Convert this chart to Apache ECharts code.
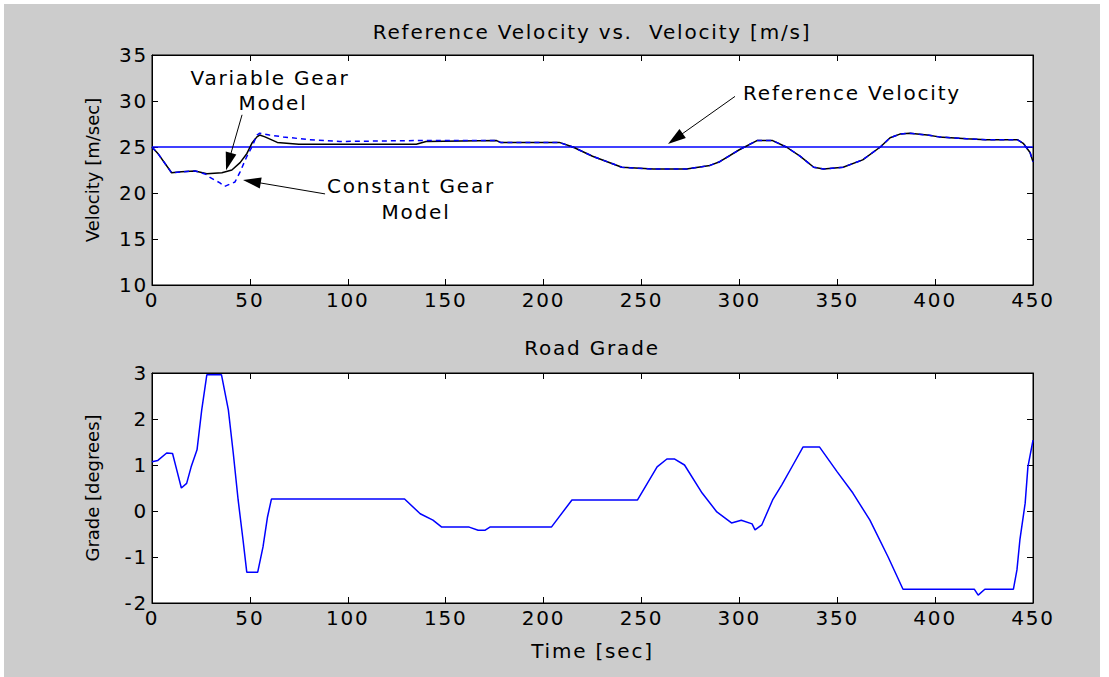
<!DOCTYPE html>
<html>
<head>
<meta charset="utf-8">
<script src="https://cdn.jsdelivr.net/npm/echarts@6/dist/echarts.min.js"></script>
<style>
html,body{margin:0;padding:0;background:#ffffff;width:1109px;height:677px;overflow:hidden;}
#c{position:absolute;left:4px;top:4px;width:1096px;height:673px;background:#cccccc;}
#c text{letter-spacing:1.8px;}
#c text[transform*=",-1,1,"]{letter-spacing:0px;}
</style>
</head>
<body>
<div id="c"></div>
<script>
// ---- data ----
const refTime = [0, 450];
const refVel = [25, 25];

const varTime = [0, 3, 10, 15, 22, 28, 35.7, 40.8, 45, 48.5, 51, 53.6, 55, 57.7, 64, 75, 100, 135, 140, 176, 178, 208, 215, 225, 240, 256, 273, 285, 290, 300, 309, 317, 324, 331, 338, 343, 353, 363, 372, 377, 382, 387, 396, 402, 416, 426, 442, 445, 448.5, 450];
const varVel = [25, 24.3, 22.2, 22.3, 22.4, 22.1, 22.2, 22.5, 23.3, 24.3, 25.4, 26.1, 26.3, 26.1, 25.5, 25.3, 25.3, 25.3, 25.6, 25.7, 25.5, 25.5, 25, 24, 22.8, 22.6, 22.6, 23.0, 23.4, 24.7, 25.7, 25.7, 25, 24, 22.8, 22.6, 22.8, 23.6, 25, 26, 26.4, 26.5, 26.3, 26.1, 25.9, 25.8, 25.8, 25.4, 24.4, 23.4];

const constTime = [0, 3, 10, 15, 22, 28, 29.6, 34.7, 37, 42.4, 45, 48.5, 51, 53.6, 55, 60, 67, 80, 96, 135, 140, 176, 178, 208, 215, 225, 240, 256, 273, 285, 290, 300, 309, 317, 324, 331, 338, 343, 353, 363, 372, 377, 382, 387, 396, 402, 416, 426, 442, 445, 448.5, 450];
const constVel = [25, 24.3, 22.2, 22.3, 22.4, 22.0, 21.7, 21.1, 20.7, 21.2, 22.3, 24, 25, 26.3, 26.5, 26.3, 26.1, 25.8, 25.6, 25.7, 25.7, 25.7, 25.5, 25.5, 25, 24, 22.8, 22.6, 22.6, 23.0, 23.4, 24.7, 25.7, 25.7, 25, 24, 22.8, 22.6, 22.8, 23.6, 25, 26, 26.4, 26.5, 26.3, 26.1, 25.9, 25.8, 25.8, 25.4, 24.4, 23.4];

const gradeTime = [0, 3, 7.5, 10.5, 12.6, 15, 17.7, 20, 23, 25.4, 28, 35.5, 39, 41.5, 44, 46.5, 48.4, 54, 56.7, 59, 61, 129, 137, 143.5, 148, 162, 166.6, 170, 172.6, 204, 214.5, 248, 258, 263, 267, 272, 281, 288.5, 296, 301, 306.5, 308, 311.5, 317, 321.7, 327.4, 332.5, 341, 350, 358, 366.7, 376, 383.6, 420, 422, 425.4, 440, 441.8, 443.3, 446, 447.4, 450];
const gradeVal = [1.07, 1.1, 1.26, 1.25, 0.9, 0.5, 0.6, 0.96, 1.33, 2.2, 2.96, 2.96, 2.2, 1.26, 0.24, -0.63, -1.33, -1.33, -0.78, -0.13, 0.26, 0.26, -0.06, -0.2, -0.35, -0.35, -0.42, -0.42, -0.35, -0.35, 0.24, 0.24, 0.96, 1.13, 1.13, 1.0, 0.39, -0.02, -0.26, -0.2, -0.28, -0.41, -0.3, 0.24, 0.57, 1.0, 1.39, 1.39, 0.85, 0.39, -0.2, -1.0, -1.7, -1.7, -1.83, -1.7, -1.7, -1.28, -0.63, 0.17, 0.96, 1.54];

const xTicks = [0, 50, 100, 150, 200, 250, 300, 350, 400, 450];
const velTicks = [10, 15, 20, 25, 30, 35];
const gradeTicks = [-2, -1, 0, 1, 2, 3];

const titles = ['Reference Velocity vs.  Velocity [m/s]', 'Road Grade'];
const axisNames = {x: 'Time [sec]', yTop: 'Velocity [m/sec]', yBottom: 'Grade [degrees]'};
const annotations = ['Variable Gear', 'Model', 'Constant Gear', 'Model', 'Reference Velocity'];

// ---- chart ----
const zip = (a, b) => a.map((t, i) => [t, b[i]]);
const FONT = 'DejaVu Sans';

function xAx(gridIndex, pos, labels, name) {
  return {
    type: 'value', gridIndex: gridIndex, position: pos,
    min: xTicks[0], max: xTicks[xTicks.length - 1], interval: 50,
    axisLine: {show: true, onZero: false, lineStyle: {color: '#000', width: 1}},
    axisTick: {show: true, inside: true, length: 6, lineStyle: {color: '#000'}},
    axisLabel: {show: labels, color: '#000', fontFamily: FONT, fontSize: 20, margin: 5},
    splitLine: {show: false},
    name: name || '', nameLocation: 'middle', nameGap: 38,
    nameTextStyle: {color: '#000', fontFamily: FONT, fontSize: 20}
  };
}
function yAx(gridIndex, pos, ticks, labels, name) {
  return {
    type: 'value', gridIndex: gridIndex, position: pos,
    min: ticks[0], max: ticks[ticks.length - 1], interval: ticks[1] - ticks[0],
    axisLine: {show: true, onZero: false, lineStyle: {color: '#000', width: 1}},
    axisTick: {show: true, inside: true, length: 6, lineStyle: {color: '#000'}},
    axisLabel: {show: labels, color: '#000', fontFamily: FONT, fontSize: 20, margin: 4},
    splitLine: {show: false},
    name: name || '', nameLocation: 'middle', nameGap: 51, nameRotate: 90,
    nameTextStyle: {color: '#000', fontFamily: FONT, fontSize: 18}
  };
}

const chart = echarts.init(document.getElementById('c'), null, {renderer: 'svg'});

const arrowLine = {color: '#000', width: 1, type: 'solid'};
const arrowEnd = {symbol: 'triangle', symbolSize: [11, 18]};
const txt = (x, y, s) => ({type: 'text', x: x, y: y, style: {text: s, fill: '#000', font: '20px "DejaVu Sans"', textAlign: 'center', textVerticalAlign: 'middle'}});

chart.setOption({
  animation: false,
  backgroundColor: '#cccccc',
  grid: [
    {left: 148, top: 51, width: 881, height: 230, show: true, backgroundColor: '#fff', borderColor: '#000', borderWidth: 1},
    {left: 148, top: 369, width: 881, height: 230, show: true, backgroundColor: '#fff', borderColor: '#000', borderWidth: 1}
  ],
  xAxis: [
    xAx(0, 'bottom', true),
    xAx(0, 'top', false),
    xAx(1, 'bottom', true, axisNames.x),
    xAx(1, 'top', false)
  ],
  yAxis: [
    yAx(0, 'left', velTicks, true, axisNames.yTop),
    yAx(0, 'right', velTicks, false),
    yAx(1, 'left', gradeTicks, true, axisNames.yBottom),
    yAx(1, 'right', gradeTicks, false)
  ],
  graphic: [
    txt(588, 28, titles[0]),
    txt(588, 344, titles[1]),
    txt(266, 74, annotations[0]),
    txt(269, 99, annotations[1]),
    txt(407, 182, annotations[2]),
    txt(412, 208, annotations[3]),
    txt(848, 89, annotations[4])
  ],
  series: [
    {
      type: 'line', xAxisIndex: 0, yAxisIndex: 0, data: zip(refTime, refVel),
      showSymbol: false, lineStyle: {color: '#0000ff', width: 1.5}, silent: true, z: 2,
      markLine: {
        silent: true, animation: false, label: {show: false},
        symbol: ['none', 'triangle'], symbolSize: [11, 18],
        lineStyle: arrowLine,
        data: [
          [{coord: [46, 28.5], symbol: 'none'}, Object.assign({coord: [39.1, 23.4]}, arrowEnd)],
          [{coord: [88.4, 19.9], symbol: 'none'}, Object.assign({coord: [51.0, 21.25]}, arrowEnd)],
          [{coord: [297.8, 30.5], symbol: 'none'}, Object.assign({coord: [267.3, 25.9]}, arrowEnd)]
        ]
      }
    },
    {
      type: 'line', xAxisIndex: 0, yAxisIndex: 0, data: zip(varTime, varVel),
      showSymbol: false, lineStyle: {color: '#000000', width: 1.5}, silent: true, z: 3
    },
    {
      type: 'line', xAxisIndex: 0, yAxisIndex: 0, data: zip(constTime, constVel),
      showSymbol: false, lineStyle: {color: '#0000ff', width: 1.5, type: [5, 4]}, silent: true, z: 4
    },
    {
      type: 'line', xAxisIndex: 2, yAxisIndex: 2, data: zip(gradeTime, gradeVal),
      showSymbol: false, lineStyle: {color: '#0000ff', width: 1.5}, silent: true, z: 2
    }
  ]
});
</script>
</body>
</html>
